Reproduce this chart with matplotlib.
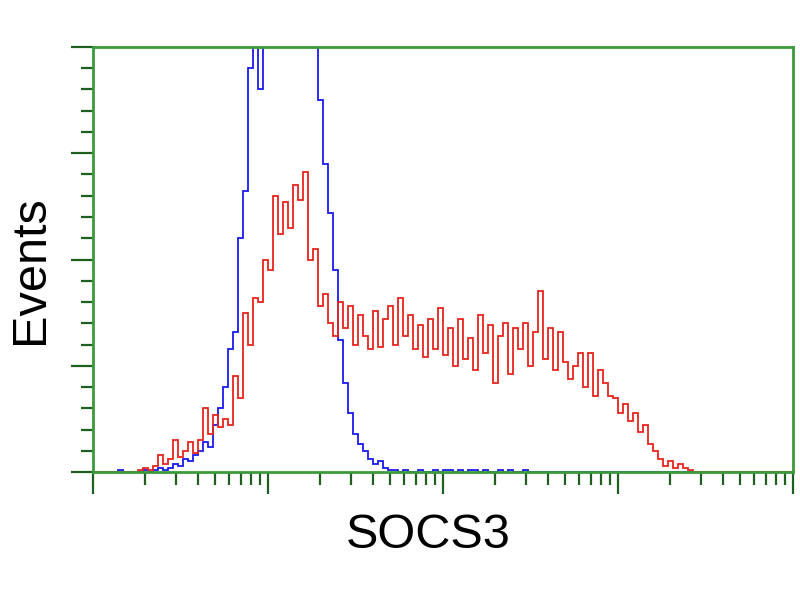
import numpy as np
import matplotlib
matplotlib.use('Agg')
import matplotlib.pyplot as plt
from matplotlib.ticker import LogLocator, MultipleLocator, NullFormatter

# counts per channel, 140 log-spaced channels from 10^0 to 10^4
red_counts = [
    0, 0, 0, 0, 0, 0, 0, 0, 0, 1,
    2, 1, 3, 8, 4, 6, 15, 7, 10, 14,
    9, 15, 30, 18, 27, 21, 25, 22, 45, 35,
    75, 60, 82, 80, 100, 95, 130, 112, 127, 115,
    135, 128, 141, 100, 105, 78, 84, 70, 64, 80,
    68, 78, 60, 74, 64, 58, 76, 59, 72, 78,
    60, 82, 64, 74, 58, 69, 54, 72, 58, 77,
    55, 68, 50, 72, 53, 63, 48, 74, 56, 69,
    42, 64, 70, 46, 68, 58, 70, 50, 66, 85,
    53, 68, 48, 66, 52, 44, 50, 56, 40, 56,
    36, 48, 42, 36, 35, 28, 32, 24, 28, 19,
    22, 13, 10, 6, 3, 5, 2, 4, 2, 1,
    0, 0, 0, 0, 0, 0, 0, 0, 0, 0,
    0, 0, 0, 0, 0, 0, 0, 0, 0, 0,
]

blue_counts = [
    0, 0, 0, 0, 0, 1, 0, 0, 0, 0,
    1, 0, 1, 2, 1, 2, 4, 3, 6, 5,
    8, 10, 14, 12, 22, 30, 40, 58, 66, 110,
    132, 190, 215, 180, 230, 260, 290, 320, 340, 330,
    310, 280, 250, 225, 205, 175, 145, 122, 95, 62,
    42, 28, 18, 13, 10, 6, 4, 5, 2, 1,
    1, 0, 1, 0, 0, 1, 0, 0, 1, 0,
    1, 1, 0, 1, 0, 1, 1, 0, 1, 0,
    0, 1, 0, 1, 0, 0, 1, 0, 0, 0,
    0, 0, 0, 0, 0, 0, 0, 0, 0, 0,
    0, 0, 0, 0, 0, 0, 0, 0, 0, 0,
    0, 0, 0, 0, 0, 0, 0, 0, 0, 0,
    0, 0, 0, 0, 0, 0, 0, 0, 0, 0,
    0, 0, 0, 0, 0, 0, 0, 0, 0, 0,
]

edges = np.logspace(0, 4, len(red_counts) + 1)

green = '#3c9a3c'
tick_green = '#1f5f1f'

fig = plt.figure(figsize=(8, 6), dpi=100)
ax = fig.add_axes([0.116, 0.2133, 0.875, 0.7084])

ax.stairs(blue_counts, edges, color='#1a1aee', lw=1.3)
ax.stairs(red_counts, edges, color='#e8241e', lw=1.3)

ax.set_xscale('log')
ax.set_xlim(1, 1e4)
ax.set_ylim(0, 200)

ax.xaxis.set_major_locator(LogLocator(base=10, numticks=10))
ax.xaxis.set_minor_locator(LogLocator(base=10, subs=np.arange(2, 10), numticks=100))
ax.xaxis.set_major_formatter(NullFormatter())
ax.xaxis.set_minor_formatter(NullFormatter())
ax.yaxis.set_major_locator(MultipleLocator(50))
ax.yaxis.set_minor_locator(MultipleLocator(10))
ax.yaxis.set_major_formatter(NullFormatter())

ax.tick_params(axis='both', which='major', direction='out', length=16, width=1.6, color=tick_green)
ax.tick_params(axis='both', which='minor', direction='out', length=9, width=1.6, color=tick_green)
ax.tick_params(top=False, right=False)

for s in ax.spines.values():
    s.set_color(green)
    s.set_linewidth(2)

fig.text(0.535, 0.108, 'SOCS3', fontsize=35, family='Liberation Sans',
         ha='center', va='center')
fig.text(0.038, 0.55, 'Events', fontsize=35, family='Liberation Sans',
         ha='center', va='center', rotation=90)

fig.savefig('out.png', dpi=100)
